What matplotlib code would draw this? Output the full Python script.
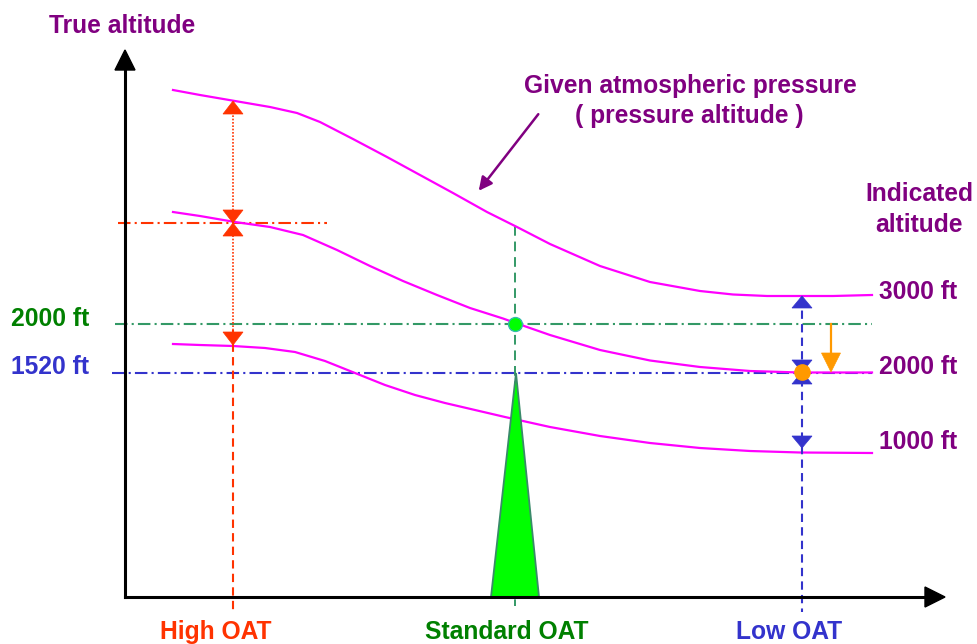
import matplotlib.pyplot as plt
from matplotlib.patches import Polygon

plt.rcParams["font.family"] = ["Liberation Sans", "DejaVu Sans"]
plt.rcParams["font.weight"] = "bold"

# Diagrama en coordenadas de pixel (x hacia la derecha, y hacia abajo)
MAGENTA = "#ff00ff"
PURPLE = "#800080"
RED = "#ff3300"
GREEN_TXT = "#008000"
GREEN_LN = "#339966"
BLUE = "#3333cc"
ORANGE = "#ff9900"
FS = 17.7

# isobaras (altitud indicada 3000 / 2000 / 1000 ft)
x_3000 = [173, 200, 235, 270, 297, 320, 353, 387, 420, 453, 487, 517, 550,
          600, 650, 700, 733, 767, 800, 833, 872]
y_3000 = [90, 95, 101, 107, 113, 122, 139, 157, 175, 193, 212, 227, 244,
          266, 282, 291, 294.5, 296, 296, 296, 295]
x_2000 = [173, 200, 235, 270, 303, 337, 370, 403, 437, 470, 503, 517, 550,
          600, 650, 700, 750, 800, 872]
y_2000 = [212, 216, 222, 227, 235, 250, 266, 281, 295, 308, 318.5, 323.5, 335,
          350, 360.5, 367, 371, 372.5, 372.5]
x_1000 = [173, 200, 233, 265, 295, 325, 355, 385, 415, 445, 475, 505, 550,
          600, 650, 700, 750, 800, 872]
y_1000 = [344, 345, 346, 348, 352, 361, 373, 385, 395, 403, 410, 417, 427,
          436, 443, 448, 451, 452.5, 453]
curve_labels = ["3000 ft", "2000 ft", "1000 ft"]
curve_label_y = [299, 374, 449]

# columnas de temperatura
oat_x = [233, 515, 802]
oat_labels = ["High OAT", "Standard OAT", "Low OAT"]
oat_label_x = [216, 507, 789]
oat_colors = [RED, GREEN_TXT, BLUE]

origin = (125, 597)
y_top, x_right = 50, 945
y_std, y_1520, y_high = 324, 373, 223

fig = plt.figure(figsize=(9.77, 6.44), dpi=100)
ax = fig.add_axes([0, 0, 1, 1])
ax.set_xlim(0, 977)
ax.set_ylim(644, 0)
ax.axis("off")


def head(x, tip, up, color, w=20, h=13, z=6):
    d = h if up else -h
    ax.add_patch(Polygon([(x, tip), (x - w / 2, tip + d), (x + w / 2, tip + d)],
                         closed=True, fc=color, ec=color, lw=0.5, zorder=z))


# ejes
ax.plot([origin[0], origin[0]], [origin[1], y_top + 18], color="black", lw=2.2, zorder=7)
ax.plot([origin[0], x_right - 18], [origin[1], origin[1]], color="black", lw=2.2, zorder=7)
ax.add_patch(Polygon([(origin[0], y_top), (origin[0] - 10, y_top + 20), (origin[0] + 10, y_top + 20)],
                     fc="black", ec="black", zorder=7))
ax.add_patch(Polygon([(x_right, origin[1]), (x_right - 20, origin[1] - 10), (x_right - 20, origin[1] + 10)],
                     fc="black", ec="black", zorder=7))

# isobaras
for xs_, ys, lab, ly in zip([x_3000, x_2000, x_1000], [y_3000, y_2000, y_1000],
                            curve_labels, curve_label_y):
    ax.plot(xs_, ys, color=MAGENTA, lw=1.6, zorder=3, solid_joinstyle="round")
    ax.text(879, ly, lab, color=PURPLE, fontsize=FS, va="baseline", ha="left")

# lineas horizontales de referencia
ax.plot([115, 872], [y_std, y_std], color=GREEN_LN, lw=1.5, dashes=(6, 2, 1, 2), zorder=2)
ax.plot([112, 872], [y_1520, y_1520], color=BLUE, lw=1.5, dashes=(6, 2, 1, 2), zorder=2)
ax.plot([118, 327], [y_high, y_high], color=RED, lw=1.5, dashes=(6, 2, 1, 2), zorder=2)

# columna OAT alta
xh = oat_x[0]
ax.plot([xh, xh], [330, 612], color=RED, lw=1.5, dashes=(4, 2.5), zorder=4)
ax.plot([xh, xh], [112, 335], color=RED, lw=1.2, dashes=(1, 1), zorder=4)
head(xh, 101, True, RED)
head(xh, y_high, False, RED)
head(xh, y_high, True, RED)
head(xh, 345, False, RED)

# columna OAT estandar
xs = oat_x[1]
ax.plot([xs, xs], [226, 606], color=GREEN_LN, lw=1.4, dashes=(5, 3), zorder=2)
ax.add_patch(Polygon([(491, origin[1]), (516, y_1520), (539, origin[1])], closed=True,
                     fc="#00ff00", ec="#3a8a6a", lw=1.3, zorder=5))
ax.plot([xs], [y_std - 0.5], marker="o", ms=10, mfc="#00ff00", mec="#33bbaa", mew=1, zorder=6)

# columna OAT baja
xl = oat_x[2]
ax.plot([xl, xl], [297, 612], color=BLUE, lw=1.5, dashes=(4, 2.5), zorder=4)
head(xl, 296, True, BLUE, h=12)
head(xl, 372, False, BLUE, h=12)
head(xl, 372, True, BLUE, h=12)
head(xl, 448, False, BLUE, h=12)
ax.plot([xl], [372], marker="o", ms=11, mfc=ORANGE, mec=ORANGE, zorder=7)

# correccion (flecha naranja)
ax.plot([831, 831], [y_std, 355], color=ORANGE, lw=1.6, zorder=6)
head(831, 372, False, ORANGE, w=19, h=19)

# etiquetas inferiores
for lx, lab, c in zip(oat_label_x, oat_labels, oat_colors):
    ax.text(lx, 639, lab, color=c, fontsize=FS, ha="center", va="baseline")

# textos
ax.text(122, 33, "True altitude", color=PURPLE, fontsize=FS, ha="center", va="baseline")
ax.text(690, 93, "Given atmospheric pressure", color=PURPLE, fontsize=FS, ha="center", va="baseline")
ax.text(689, 123, "( pressure altitude )", color=PURPLE, fontsize=FS, ha="center", va="baseline")
ax.text(919, 201, "Indicated", color=PURPLE, fontsize=FS, ha="center", va="baseline")
ax.text(919, 232, "altitude", color=PURPLE, fontsize=FS, ha="center", va="baseline")
ax.text(11, 326, "2000 ft", color=GREEN_TXT, fontsize=FS, ha="left", va="baseline")
ax.text(11, 374, "1520 ft", color=BLUE, fontsize=FS, ha="left", va="baseline")

ax.annotate("", xy=(477, 193), xytext=(540, 112),
            arrowprops=dict(arrowstyle="-|>", color=PURPLE, lw=1.8, mutation_scale=20))

fig.savefig("out.png", dpi=100)
